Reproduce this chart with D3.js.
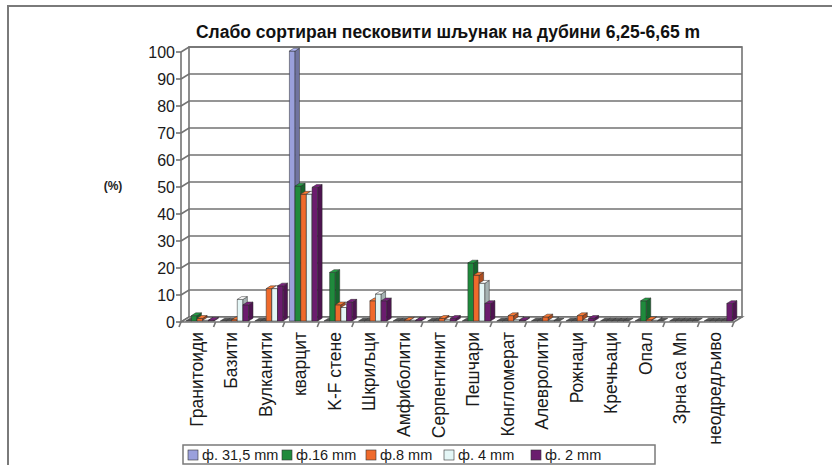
<!DOCTYPE html>
<html lang="sr">
<head>
<meta charset="UTF-8">
<title>Слабо сортиран песковити шљунак</title>
<script src="https://d3js.org/d3.v7.min.js"></script>
<style>
  body { margin: 0; background: #fff; }
  text { font-family: Arial, "Liberation Sans", sans-serif; }
</style>
</head>
<body>
<script>
  // categories and series
  const categories = ["Гранитоиди", "Базити", "Вулканити", "кварцит", "K-F стене", "Шкриљци",
    "Амфиболити", "Серпентинит", "Пешчари", "Конгломерат", "Алевролити", "Рожнаци",
    "Кречњаци", "Опал", "Зрна са Mn", "неодредљиво"];
  const seriesNames = ["ф. 31,5 mm", "ф.16 mm", "ф.8 mm", "ф. 4 mm", "ф. 2 mm"];
  const seriesColors = ["#9aa0dc", "#1f8a3c", "#ef6a2c", "#e4f6f6", "#6b1c6e"];

  const s315 = [0, 0, 0, 100, 0, 0, 0, 0, 0, 0, 0, 0, 0, 0, 0, 0];
  const s16  = [2, 0, 0, 50, 18, 0, 0, 0, 21.5, 0, 0, 0, 0, 7.5, 0, 0];
  const s8   = [1, 0.5, 12, 47, 6, 7.5, 0.3, 1, 17, 2, 1.5, 2, 0, 0.5, 0, 0];
  const s4   = [0.3, 8, 12, 47, 5, 10, 0.3, 0.5, 14, 0.5, 0.3, 0.5, 0, 0.3, 0, 0];
  const s2   = [0.3, 6, 13, 49.5, 7, 7.5, 0.3, 1, 6.5, 0.3, 0, 1, 0, 0, 0, 6.5];
  const series = [s315, s16, s8, s4, s2];
  const yTicks = [0, 10, 20, 30, 40, 50, 60, 70, 80, 90, 100];

  const W = 832, H = 465;
  const svg = d3.select("body").append("svg").attr("width", W).attr("height", H);

  // outer frame (top + left visible)
  svg.append("path").attr("d", `M8,${H} L8,6 L${W},6`)
    .attr("fill", "none").attr("stroke", "#7a7a7a").attr("stroke-width", 2);

  // 3D geometry: front plane + depth offset
  const dx = 8, dy = -5;
  const x = d3.scaleBand().domain(categories).range([181, 734]);
  const y = d3.scaleLinear().domain([0, 100]).range([322, 52]);
  const inner = d3.scaleBand().domain(d3.range(5)).range([0, x.bandwidth()]).paddingOuter(0.55);

  const grid = "#737373";
  const x0 = x.range()[0], x1 = x.range()[1];

  // back wall
  svg.append("rect").attr("x", x0 + dx).attr("y", y(100) + dy)
    .attr("width", x1 - x0).attr("height", y(0) - y(100))
    .attr("fill", "#fff").attr("stroke", grid).attr("stroke-width", 1.6);

  // gridlines on side wall and back wall
  svg.append("g").selectAll("path").data(yTicks).join("path")
    .attr("d", d => `M${x0},${y(d)} L${x0 + dx},${y(d) + dy} L${x1 + dx},${y(d) + dy}`)
    .attr("fill", "none").attr("stroke", grid).attr("stroke-width", 1.6);

  // floor
  svg.append("path")
    .attr("d", `M${x0},${y(0)} L${x1},${y(0)} L${x1 + dx},${y(0) + dy} L${x0 + dx},${y(0) + dy} Z`)
    .attr("fill", "#fff").attr("stroke", grid).attr("stroke-width", 1.6);

  // bars
  const bw = inner.bandwidth();
  const f0 = 0.2, fd = 0.55;
  const ox = dx * f0, oy = dy * f0, sx = dx * fd, sy = dy * fd;
  const bars = [];
  categories.forEach((c, ci) => series.forEach((s, si) => bars.push({ c, si, v: s[ci] })));
  const gb = svg.append("g");
  bars.forEach(b => {
    const col = d3.color(seriesColors[b.si]);
    const bx = x(b.c) + inner(b.si) + ox;
    const yb = y(0) + oy, yt = y(b.v) + oy;
    const g = gb.append("g").attr("stroke", "#2a2a2a").attr("stroke-width", 0.5).attr("stroke-linejoin", "round");
    if (b.v > 0) {
      g.append("rect").attr("x", bx).attr("y", yt).attr("width", bw).attr("height", yb - yt)
        .attr("fill", col.formatHex());
      g.append("path")
        .attr("d", `M${bx + bw},${yb} L${bx + bw + sx},${yb + sy} L${bx + bw + sx},${yt + sy} L${bx + bw},${yt} Z`)
        .attr("fill", col.darker(0.9).formatHex());
    }
    g.append("path")
      .attr("d", `M${bx},${yt} L${bx + sx},${yt + sy} L${bx + bw + sx},${yt + sy} L${bx + bw},${yt} Z`)
      .attr("fill", b.v > 0 ? col.brighter(0.4).formatHex() : "#555");
  });

  // y axis (front edge)
  svg.append("line").attr("x1", x0).attr("x2", x0).attr("y1", y(0)).attr("y2", y(100))
    .attr("stroke", grid).attr("stroke-width", 1.6);
  const yAxis = svg.append("g");
  yAxis.selectAll("line").data(yTicks).join("line")
    .attr("x1", x0 - 5).attr("x2", x0).attr("y1", d => y(d)).attr("y2", d => y(d))
    .attr("stroke", grid).attr("stroke-width", 1.6);
  yAxis.selectAll("text").data(yTicks).join("text")
    .attr("x", x0 - 6).attr("y", d => y(d)).attr("dy", "0.36em")
    .attr("text-anchor", "end").attr("font-size", 16).attr("fill", "#1a1a1a")
    .text(d => d);

  // category ticks
  svg.append("g").selectAll("line").data(d3.range(categories.length + 1)).join("line")
    .attr("x1", i => x0 + i * x.step()).attr("x2", i => x0 + i * x.step() - 2)
    .attr("y1", y(0)).attr("y2", y(0) + 5)
    .attr("stroke", grid).attr("stroke-width", 1.6);

  // category labels
  svg.append("g").selectAll("text").data(categories).join("text")
    .attr("transform", d => `translate(${x(d) + x.bandwidth() / 2 - 2},${y(0) + 10}) rotate(-90)`)
    .attr("text-anchor", "end").attr("dy", "0.36em")
    .attr("font-size", 17.5).attr("fill", "#1a1a1a")
    .text(d => d);

  // title
  svg.append("text").attr("x", 448).attr("y", 38).attr("text-anchor", "middle")
    .attr("font-size", 17.5).attr("font-weight", "bold").attr("fill", "#111")
    .text("Слабо сортиран песковити шљунак на дубини 6,25-6,65 m");

  // y label
  svg.append("text").attr("x", 113).attr("y", 190).attr("text-anchor", "middle")
    .attr("font-size", 12).attr("font-weight", "bold").attr("fill", "#222").text("(%)");

  // legend
  const lg = svg.append("g");
  lg.append("rect").attr("x", 183).attr("y", 445).attr("width", 472).attr("height", 19)
    .attr("fill", "#fff").attr("stroke", "#7a7a7a").attr("stroke-width", 1.5);
  const legX = [188, 282, 366, 444, 531];
  seriesNames.forEach((n, i) => {
    lg.append("rect").attr("x", legX[i]).attr("y", 450).attr("width", 10).attr("height", 10)
      .attr("fill", seriesColors[i]).attr("stroke", "#333").attr("stroke-width", 0.6);
    lg.append("text").attr("x", legX[i] + 14).attr("y", 455).attr("dy", "0.35em")
      .attr("font-size", 14.5).attr("fill", "#1a1a1a").text(n);
  });
</script>
</body>
</html>
